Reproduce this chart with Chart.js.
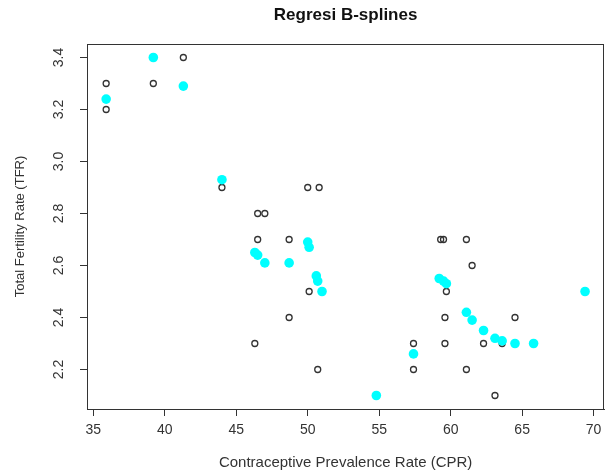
<!DOCTYPE html>
<html>
<head>
<meta charset="utf-8">
<script src="https://cdn.jsdelivr.net/npm/chart.js@4/dist/chart.umd.min.js"></script>
<style>
  html, body { margin: 0; padding: 0; background: #fff; }
  #wrap { width: 609px; height: 474px; }
</style>
</head>
<body>
<div id="wrap"><canvas id="splineChart"></canvas></div>
<script>
// observed data (hollow circles)
const cprObs = [35.9, 35.9, 39.2, 41.3, 44.0, 46.5, 47.0, 46.5, 48.7, 46.3, 48.7,
    50.0, 50.8, 50.1, 50.7, 54.8, 57.4, 57.4, 59.3, 59.5, 59.7, 59.6, 59.6,
    61.1, 61.5, 61.1, 62.3, 63.6, 63.1, 64.5, 65.8, 69.4];
const tfrObs = [3.3, 3.2, 3.3, 3.4, 2.9, 2.8, 2.8, 2.7, 2.7, 2.3, 2.4,
    2.9, 2.9, 2.5, 2.2, 2.1, 2.3, 2.2, 2.7, 2.7, 2.5, 2.4, 2.3,
    2.7, 2.6, 2.2, 2.3, 2.3, 2.1, 2.4, 2.3, 2.5];

// fitted values from the B-spline regression (cyan dots)
const cprFit = [35.9, 39.2, 41.3, 44.0, 46.3, 46.5, 47.0, 48.7, 50.0, 50.1, 50.6,
    50.7, 51.0, 54.8, 57.4, 59.2, 59.5, 59.7, 61.1, 61.5, 62.3, 63.1, 63.6,
    64.5, 65.8, 69.4];
const tfrFit = [3.24, 3.40, 3.29, 2.93, 2.65, 2.64, 2.61, 2.61, 2.69, 2.67, 2.56,
    2.54, 2.50, 2.10, 2.26, 2.55, 2.54, 2.53, 2.42, 2.39, 2.35, 2.32, 2.31,
    2.30, 2.30, 2.50];

const xTicks = [35, 40, 45, 50, 55, 60, 65, 70];
const yTicks = [2.2, 2.4, 2.6, 2.8, 3.0, 3.2, 3.4];

const FONT = "'Liberation Sans', Arial, sans-serif";
const INK = '#333333';

// draws the R-style box around the plot region
const boxPlugin = {
    id: 'plotBox',
    afterDraw(chart) {
        const a = chart.chartArea;
        const ctx = chart.ctx;
        ctx.save();
        ctx.strokeStyle = INK;
        ctx.lineWidth = 1;
        ctx.strokeRect(Math.round(a.left) + 0.5, Math.round(a.top) + 0.5,
            Math.round(a.right - a.left) - 1, Math.round(a.bottom - a.top));
        ctx.restore();
    }
};

const ctx = document.getElementById('splineChart').getContext('2d');

new Chart(ctx, {
    type: 'scatter',
    data: {
        datasets: [
            {
                label: 'Fitted',
                data: cprFit.map((x, i) => ({ x: x, y: tfrFit[i] })),
                backgroundColor: '#00ffff',
                borderColor: '#00ffff',
                borderWidth: 0,
                pointRadius: 4.8,
                pointHoverRadius: 4.8,
                order: 0
            },
            {
                label: 'Observed',
                data: cprObs.map((x, i) => ({ x: x, y: tfrObs[i] })),
                backgroundColor: 'rgba(0,0,0,0)',
                borderColor: '#333333',
                borderWidth: 1.3,
                pointRadius: 3,
                pointHoverRadius: 3,
                order: 1
            }
        ]
    },
    options: {
        responsive: true,
        maintainAspectRatio: false,
        animation: false,
        layout: { padding: 0 },
        plugins: {
            legend: { display: false },
            tooltip: { enabled: false }
        },
        scales: {
            x: {
                type: 'linear',
                position: 'bottom',
                min: 34.56,
                max: 70.74,
                afterBuildTicks: s => { s.ticks = xTicks.map(v => ({ value: v })); },
                afterFit: s => { s.height = 65; },
                grid: { drawOnChartArea: false, drawTicks: true, tickLength: 7, color: INK },
                border: { display: true, color: INK },
                ticks: { color: INK, font: { family: FONT, size: 14 }, padding: 6, maxRotation: 0 },
                title: {
                    display: true,
                    text: 'Contraceptive Prevalence Rate (CPR)',
                    color: INK,
                    font: { family: FONT, size: 15 },
                    padding: { top: 0, bottom: 2 }
                }
            },
            y: {
                type: 'linear',
                position: 'left',
                min: 2.048,
                max: 3.452,
                afterBuildTicks: s => { s.ticks = yTicks.map(v => ({ value: v })); },
                afterFit: s => { s.width = 87; },
                grid: { drawOnChartArea: false, drawTicks: true, tickLength: 7, color: INK },
                border: { display: true, color: INK },
                ticks: {
                    color: INK,
                    font: { family: FONT, size: 14 },
                    minRotation: 90,
                    maxRotation: 90,
                    crossAlign: 'center',
                    padding: 11,
                    callback: v => v.toFixed(1)
                },
                title: {
                    display: true,
                    text: 'Total Fertility Rate (TFR)',
                    color: INK,
                    font: { family: FONT, size: 13 },
                    padding: { top: 13, bottom: 0 }
                }
            },
            xTop: {
                type: 'linear',
                position: 'top',
                afterFit: s => { s.height = 44; },
                grid: { display: false },
                border: { display: false },
                ticks: { display: false },
                title: {
                    display: true,
                    text: 'Regresi B-splines',
                    color: '#111111',
                    font: { family: FONT, size: 17, weight: 'bold' },
                    padding: { top: 5, bottom: 0 }
                }
            }
        }
    },
    plugins: [boxPlugin]
});
</script>
</body>
</html>
